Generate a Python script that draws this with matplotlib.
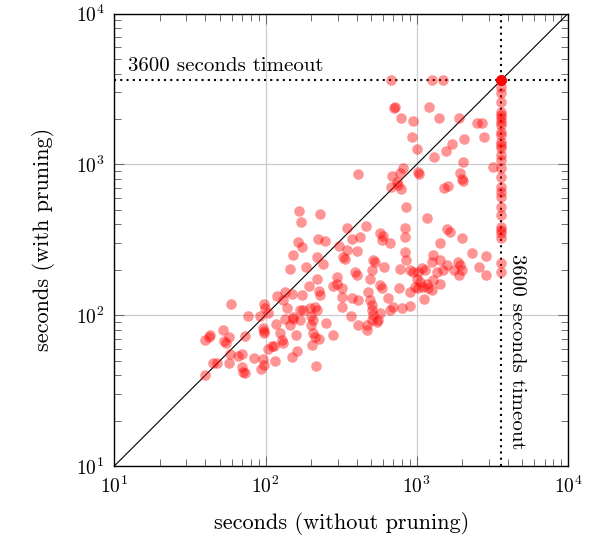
import numpy as np
import matplotlib
matplotlib.use('Agg')
from matplotlib import pyplot as plt
from matplotlib.ticker import LogLocator

plt.rcParams['font.family'] = 'serif'
plt.rcParams['font.serif'] = ['cmr10']
plt.rcParams['mathtext.fontset'] = 'cm'
plt.rcParams['axes.formatter.use_mathtext'] = True
plt.rcParams['axes.unicode_minus'] = False

TIMEOUT = 3600

# runtimes in seconds
t_without = [
    167, 229, 172, 344, 165, 174, 221, 246, 308, 344, 153, 218, 241, 324, 145, 184,
    296, 281, 218, 195, 224, 229, 319, 319, 119, 135, 149, 130, 174, 59, 97, 99,
    138, 169, 178, 197, 213, 218, 322, 76, 92, 104, 135, 151, 153, 169, 199, 207,
    199, 251, 370, 96, 97, 98, 117, 145, 52, 43, 42, 40, 57, 73, 125, 128, 131,
    158, 207, 213, 224, 278, 53, 55, 204, 104, 110, 113, 162, 58, 70, 66, 84, 96,
    116, 149, 45, 48, 57, 70, 71, 73, 94, 97, 214, 40,
    850, 1164, 460, 837, 837, 572, 602, 587, 666, 422, 371, 1579, 1660, 2000, 1430,
    401, 336, 837, 850, 2310, 2860, 1290, 1256, 1430, 1579, 1500, 1885, 1930, 1985,
    1910, 1750, 2560, 2860, 517, 504, 492, 530, 611, 572, 587, 391, 401, 296, 775,
    903, 950, 1025, 1079, 1135, 1000, 1050, 975, 1025, 1105, 1190, 1164, 1290, 1356,
    1430, 1256, 768, 903, 1120, 371, 410, 478, 492, 504, 504, 517, 649, 700, 666,
    796, 572, 557, 504, 467, 410, 467, 545, 903,
    674, 1260, 1500, 718, 706, 1210, 785, 950, 1410, 1910, 2490, 2690, 925, 1000,
    1700, 1560, 2060, 2800, 1300, 2020, 3180, 410, 815, 775, 684, 737, 755, 674,
    787, 1025, 1040, 1930, 1985, 2030, 1515, 1600,
]
t_with = [
    487, 472, 412, 376, 306, 284, 322, 309, 288, 269, 250, 244, 217, 244, 201, 209,
    180, 157, 173, 157, 145, 137, 151, 132, 134, 143, 139, 126, 136, 119, 118, 111,
    111, 108, 108, 111, 114, 108, 113, 98, 98, 103, 95, 97, 94, 93, 98, 93,
    86, 89, 98, 82, 79, 76, 87, 86, 80, 74, 72, 68, 72, 73, 76, 68, 65,
    74, 76, 72, 69, 74, 67, 65, 63, 60, 62, 62, 58, 55, 55, 54, 52, 51,
    50, 53, 48, 48, 48, 45.5, 42, 41.5, 44, 47, 46, 40,
    518, 439, 391, 379, 330, 348, 335, 314, 299, 330, 319, 370, 357, 326, 302,
    267, 235, 261, 232, 257, 247, 250, 226, 232, 215, 199, 226, 215, 199,
    184, 199, 209, 184, 232, 199, 175, 226, 209, 158, 151, 194, 184, 162, 202,
    199, 194, 194, 204, 199, 175, 166, 154, 151, 154, 151, 162, 171, 194,
    162, 147, 151, 143, 128, 129, 126, 143, 126, 117, 108, 100, 129, 114, 108,
    111, 103, 93, 93, 86, 86, 80, 90, 115,
    3600, 3600, 3600, 2390, 2350, 2390, 2020, 1950, 2040, 2040, 1870, 1870, 1510, 1258,
    1357, 1231, 1465, 1524, 1123, 1040, 955, 859, 941, 872, 840, 767, 729, 710,
    686, 885, 862, 872, 795, 778, 693, 718,
]
# instances where the run without pruning hit the timeout
t_with_timed_out = [
    3600, 3600, 3600, 3600, 3600, 3600, 3600, 3600, 3270, 2957, 2601, 2233, 2123,
    2018, 1916, 1823, 1645, 1564, 1412, 1343, 1277, 1153, 1068, 941, 828, 710, 658,
    610, 523, 461, 386, 367, 349, 323, 221, 194,
]

fig = plt.figure(figsize=(5.94, 5.38), dpi=100)
ax = fig.add_axes([114.3 / 594, 1 - 466 / 538, 453.7 / 594, 452.5 / 538])

x = np.array(t_without + [TIMEOUT] * len(t_with_timed_out))
y = np.array(t_with + t_with_timed_out)
ax.scatter(x, y, s=58, color='red', alpha=0.42, linewidths=0, zorder=2)

# reference lines sit under the marks
lims = [10, 10000]
ax.plot(lims, lims, color='black', lw=0.8, zorder=1.5)
ax.plot(lims, [TIMEOUT, TIMEOUT], color='black', lw=1.5, ls=(0, (1, 2)), zorder=1.5)
ax.plot([TIMEOUT, TIMEOUT], lims, color='black', lw=1.5, ls=(0, (1, 2)), zorder=1.5)

ax.text(12.3, TIMEOUT * 1.09, '3600 seconds timeout', fontsize=15, ha='left', va='bottom')
ax.text(TIMEOUT * 1.11, 255, '3600 seconds timeout', fontsize=15, rotation=270,
        ha='left', va='top')

ax.set_xscale('log')
ax.set_yscale('log')
ax.set_xlim(lims)
ax.set_ylim(lims)
for axis in (ax.xaxis, ax.yaxis):
    axis.set_major_locator(LogLocator(base=10, numticks=10))
    axis.set_minor_locator(LogLocator(base=10, subs=np.arange(2, 10), numticks=10))

ax.grid(True, which='major', color='#cccccc', lw=0.9, zorder=0)
ax.set_axisbelow(True)
ax.tick_params(which='both', direction='in', top=True, right=True, labelsize=14,
               pad=7, width=0.6, color='#555555')
ax.tick_params(which='major', length=7.5)
ax.tick_params(which='minor', length=4.8)
for sp in ax.spines.values():
    sp.set_linewidth(1.0)

ax.set_xlabel('seconds (without pruning)', fontsize=16, labelpad=11)
ax.set_ylabel('seconds (with pruning)', fontsize=16, labelpad=15)

plt.savefig('out.png', dpi=100)
